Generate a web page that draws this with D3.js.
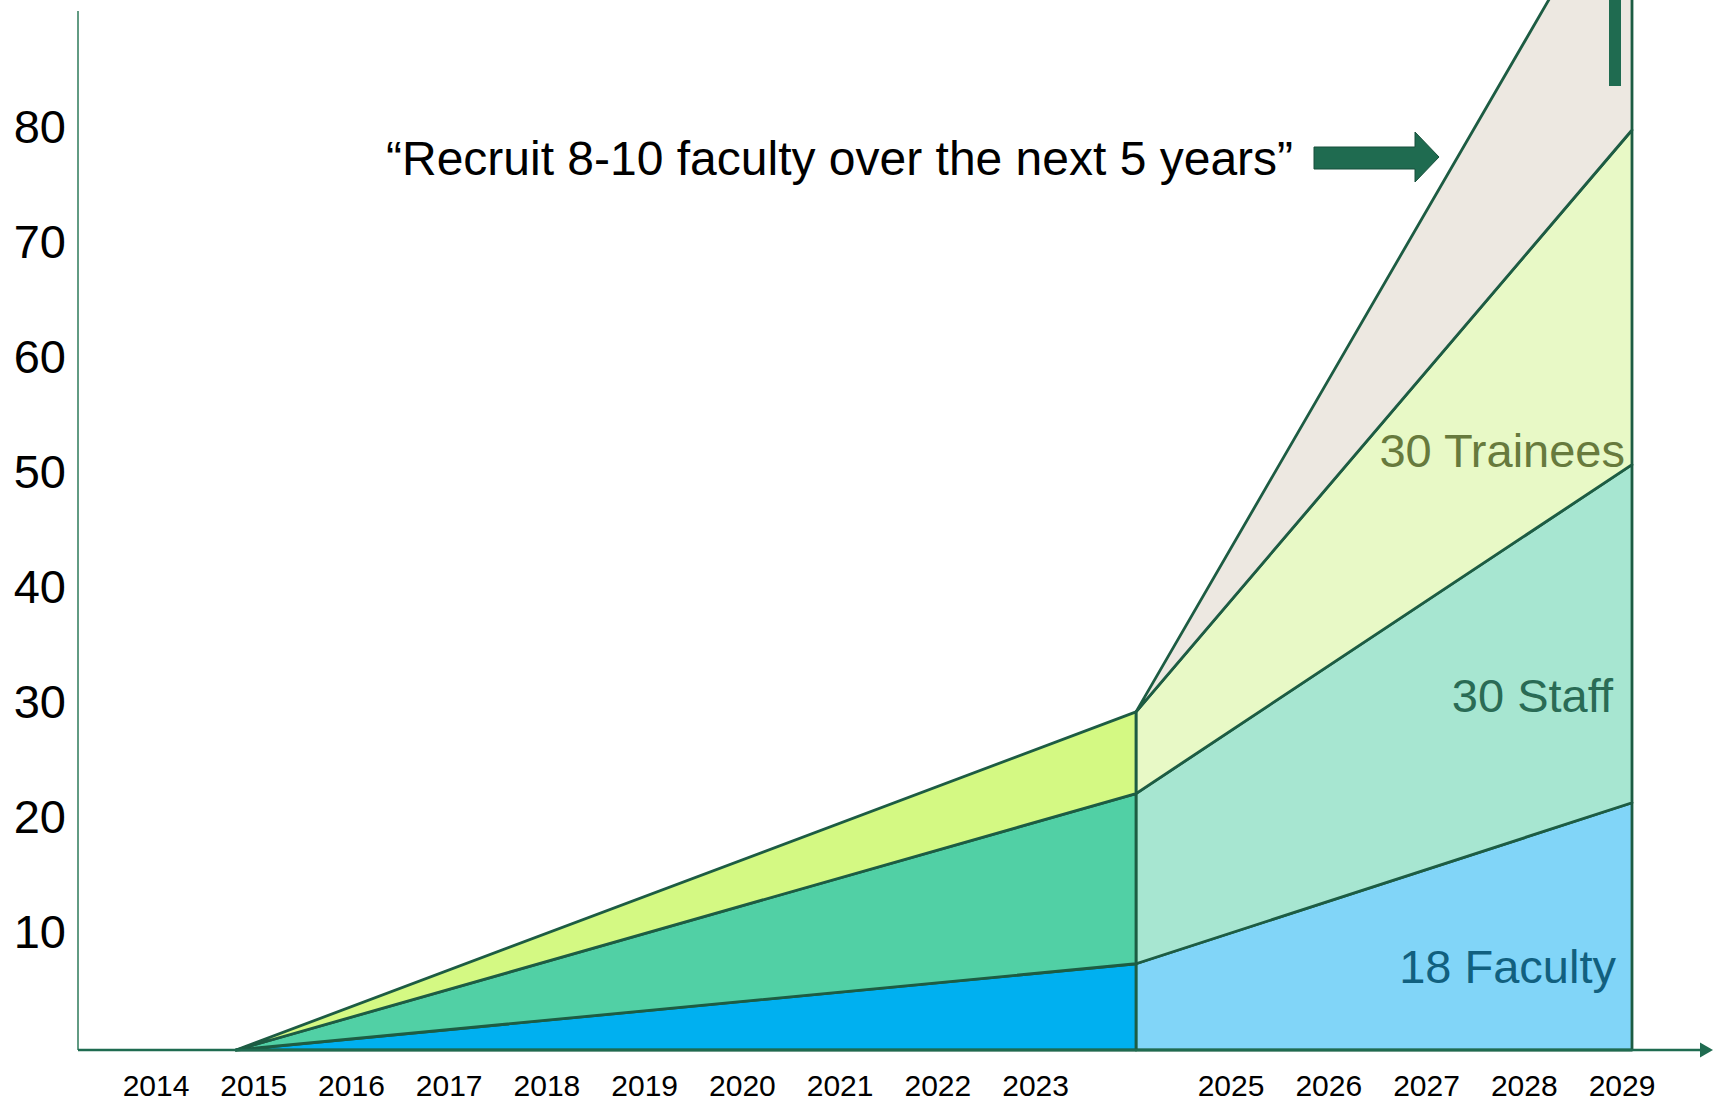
<!DOCTYPE html>
<html>
<head>
<meta charset="utf-8">
<script src="https://cdn.jsdelivr.net/npm/d3@7"></script>
<style>
    body { margin: 0; background: #fff; }
    svg { display: block; font-family: "Liberation Sans", Arial, sans-serif; }
</style>
</head>
<body>
<div id="chart"></div>
<script>
    // values (stacked layers, people)
    const pastYears = [2015, 2024];
    const pastFaculty = [0, 7.5];
    const pastStaff = [0, 14.8];
    const pastTrainees = [0, 7.1];

    const planYears = [2024, 2029];
    const planFaculty = [7.5, 21.5];
    const planStaff = [14.8, 29.4];
    const planTrainees = [7.1, 29.1];
    const planOther = [0, 23.8];

    const yTicks = [10, 20, 30, 40, 50, 60, 70, 80];
    const yearLabels = [2014, 2015, 2016, 2017, 2018, 2019, 2020, 2021, 2022, 2023, 2025, 2026, 2027, 2028, 2029];
    const seriesLabels = ["18 Faculty", "30 Staff", "30 Trainees"];
    const quote = "\u201cRecruit 8-10 faculty over the next 5 years\u201d";

    const width = 1713, height = 1102;
    const green = "#1d5c43";

    const svg = d3.select("#chart")
        .append("svg")
        .attr("width", width)
        .attr("height", height);

    // data scale (hand-drawn, so piecewise) and label scale
    const x = d3.scaleLinear()
        .domain([2015, 2024, 2029])
        .range([236, 1136, 1632]);
    const xLabel = d3.scaleLinear()
        .domain([2014, 2029])
        .range([156, 1622]);
    const y = d3.scaleLinear()
        .domain([0, 80])
        .range([1050, 130]);

    const area = d3.area()
        .x(d => x(d.data.year))
        .y0(d => y(d[0]))
        .y1(d => y(d[1]));

    function drawStack(years, cols, keys, colors) {
        const rows = years.map((yr, i) => {
            const r = { year: yr };
            keys.forEach((k, j) => r[k] = cols[j][i]);
            return r;
        });
        const layers = d3.stack().keys(keys)(rows);
        svg.append("g")
            .selectAll("path")
            .data(layers)
            .enter().append("path")
            .attr("d", area)
            .attr("fill", (d, i) => colors[i])
            .attr("stroke", green)
            .attr("stroke-width", 2.8)
            .attr("stroke-linejoin", "round");
    }

    drawStack(planYears, [planFaculty, planStaff, planTrainees, planOther],
        ["faculty", "staff", "trainees", "other"],
        ["#81d5f8", "#a7e6d1", "#e8f9c6", "#ede8e1"]);
    drawStack(pastYears, [pastFaculty, pastStaff, pastTrainees],
        ["faculty", "staff", "trainees"],
        ["#00b0f0", "#51d0a5", "#d4f983"]);

    // y axis
    svg.append("line")
        .attr("x1", 78).attr("x2", 78)
        .attr("y1", 11).attr("y2", y(0))
        .attr("stroke", "#2e7a5a")
        .attr("stroke-width", 1.5);

    const yAxis = svg.append("g")
        .attr("transform", "translate(68,-3)")
        .attr("font-family", "Liberation Sans, Arial, sans-serif")
        .call(d3.axisLeft(y).tickValues(yTicks).tickSize(0).tickPadding(2));
    yAxis.select(".domain").remove();
    yAxis.selectAll("text")
        .attr("font-size", 47)
        .attr("fill", "#000");

    // x axis with arrow
    svg.append("line")
        .attr("x1", 78).attr("x2", 1703)
        .attr("y1", y(0)).attr("y2", y(0))
        .attr("stroke", "#1f6b50")
        .attr("stroke-width", 2.5);
    svg.append("path")
        .attr("d", `M1700,${y(0) - 7.5}L1713,${y(0)}L1700,${y(0) + 7.5}Z`)
        .attr("fill", "#1f6b50");

    svg.append("g")
        .selectAll("text")
        .data(yearLabels)
        .enter().append("text")
        .attr("x", d => xLabel(d))
        .attr("y", 1096)
        .attr("text-anchor", "middle")
        .attr("font-size", 30)
        .attr("fill", "#000")
        .text(d => d);

    // series labels
    const labelPos = [
        { x: 1616, y: 983, c: "#11607f" },
        { x: 1613, y: 712, c: "#2a6b55" },
        { x: 1625, y: 467, c: "#677a3d" }
    ];
    svg.append("g")
        .selectAll("text")
        .data(seriesLabels)
        .enter().append("text")
        .attr("x", (d, i) => labelPos[i].x)
        .attr("y", (d, i) => labelPos[i].y)
        .attr("text-anchor", "end")
        .attr("font-size", 47)
        .attr("fill", (d, i) => labelPos[i].c)
        .text(d => d);

    // quote + arrow
    svg.append("text")
        .attr("x", 386)
        .attr("y", 175)
        .attr("font-size", 48)
        .attr("fill", "#000")
        .text(quote);

    svg.append("path")
        .attr("d", "M1314,147L1415,147L1415,132L1439,157L1415,182L1415,169L1314,169Z")
        .attr("fill", "#1f6b50")
        .attr("stroke", "#174f3a")
        .attr("stroke-width", 1);

    svg.append("rect")
        .attr("x", 1609).attr("y", 0)
        .attr("width", 12).attr("height", 86)
        .attr("fill", "#1f6b50");
</script>
</body>
</html>
